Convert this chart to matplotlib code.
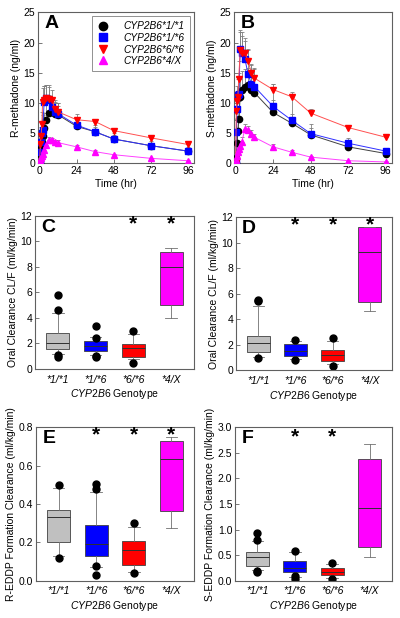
import matplotlib
matplotlib.use("Agg")
import matplotlib.pyplot as plt
from matplotlib.lines import Line2D
import numpy as np

plt.rcParams['font.family'] = ['Liberation Sans', 'DejaVu Sans']
plt.rcParams['mathtext.fontset'] = 'custom'
plt.rcParams['mathtext.it'] = 'Liberation Sans:italic'
plt.rcParams['mathtext.rm'] = 'Liberation Sans'

# ---------------- data ----------------
genotypes = ["CYP2B6*1/*1", "CYP2B6*1/*6", "CYP2B6*6/*6", "CYP2B6*4/X"]
geno_short = ["*1/*1", "*1/*6", "*6/*6", "*4/X"]
times = [0, 0.5, 1, 1.5, 2, 3, 4, 6, 8, 10, 12, 24, 36, 48, 72, 96]

r_11 = [0, 1.5, 2.5, 3.5, 4.5, 5.8, 7.2, 8.3, 8.5, 8.2, 8.0, 6.1, 5.2, 4.0, 2.9, 2.0]
r_16 = [0, 1.8, 3.5, 5.0, 5.5, 10.2, 10.8, 10.5, 9.3, 8.5, 8.2, 6.3, 5.2, 4.0, 2.9, 2.0]
r_66 = [0, 3.2, 4.5, 6.5, 10.2, 10.5, 10.8, 10.7, 10.4, 9.0, 8.5, 7.2, 6.9, 5.4, 4.2, 3.1]
r_4x = [0, 0.5, 0.8, 1.2, 1.5, 2.2, 3.0, 3.9, 3.8, 3.5, 3.4, 2.7, 1.9, 1.4, 0.8, 0.4]
r_sd_11 = [0, 0.5, 1.0, 1.5, 2.0, 2.5, 3.0, 3.0, 2.5, 2.0, 2.0, 1.5, 1.2, 1.0, 0.8, 0.6]
r_sd_16 = [0, 1.0, 1.5, 2.0, 2.5, 2.6, 2.2, 2.2, 1.6, 1.4, 1.3, 1.0, 0.8, 0.6, 0.5, 0.4]
r_sd_66 = [0, 1.0, 1.5, 2.0, 2.2, 2.3, 2.2, 2.2, 1.8, 1.5, 1.5, 0.9, 0.5, 0.4, 0.3, 0.3]
r_sd_4x = [0, 0.2, 0.3, 0.4, 0.4, 0.5, 0.5, 0.5, 0.4, 0.4, 0.4, 0.3, 0.2, 0.2, 0.1, 0.1]

s_11 = [0, 0.8, 3.3, 5.4, 7.3, 11.0, 12.2, 12.6, 13.0, 12.2, 11.7, 8.4, 6.6, 4.7, 2.7, 1.6]
s_16 = [0, 5.1, 9.0, 11.3, 11.4, 19.0, 18.3, 17.2, 14.8, 13.2, 12.7, 9.4, 7.1, 4.9, 3.3, 2.0]
s_66 = [0, 8.6, 10.3, 11.0, 14.0, 18.7, 18.3, 18.2, 17.0, 15.0, 14.1, 12.2, 11.0, 8.3, 5.9, 4.3]
s_4x = [0, 0.5, 1.2, 1.8, 2.3, 2.8, 3.5, 5.7, 5.5, 4.9, 4.3, 2.7, 1.8, 1.0, 0.4, 0.2]
s_sd_11 = [0, 1.0, 2.0, 2.5, 3.0, 3.0, 3.0, 3.0, 2.8, 2.6, 2.5, 2.0, 1.6, 1.2, 0.8, 0.5]
s_sd_16 = [0, 2.0, 3.0, 3.0, 3.5, 3.0, 3.5, 3.1, 4.0, 3.0, 3.1, 3.8, 3.8, 1.6, 0.8, 0.5]
s_sd_66 = [0, 2.0, 2.5, 3.0, 3.0, 3.0, 2.8, 2.5, 2.0, 1.5, 1.5, 1.0, 0.8, 0.6, 0.5, 0.4]
s_sd_4x = [0, 0.3, 0.4, 0.5, 0.6, 0.7, 0.8, 0.8, 0.7, 0.6, 0.5, 0.4, 0.3, 0.2, 0.1, 0.1]

# box statistics: [whislo, q1, med, q3, whishi]
c_stats = [[1.2, 1.6, 2.05, 2.8, 4.4], [1.1, 1.4, 1.8, 2.2, 2.5], [0.75, 0.95, 1.65, 1.95, 2.75], [4.0, 5.0, 8.0, 9.15, 9.5]]
c_fliers = [[5.8, 4.6, 1.1, 0.9], [3.35, 2.45, 1.0, 0.9], [3.0, 0.45], []]
c_star = [False, False, True, True]

d_stats = [[1.0, 1.45, 2.15, 2.7, 5.0], [0.9, 1.15, 1.5, 2.05, 2.3], [0.5, 0.75, 1.2, 1.55, 2.3], [4.65, 5.35, 9.3, 11.2, 11.2]]
d_fliers = [[5.5, 5.4, 0.95], [2.4, 0.8], [2.5, 0.35], []]
d_star = [False, True, True, True]

e_stats = [[0.13, 0.20, 0.33, 0.37, 0.485], [0.07, 0.13, 0.19, 0.29, 0.46], [0.045, 0.085, 0.16, 0.21, 0.28], [0.275, 0.365, 0.635, 0.725, 0.75]]
e_fliers = [[0.50, 0.12], [0.505, 0.48, 0.075, 0.03], [0.30, 0.04], []]
e_star = [False, True, True, True]

f_stats = [[0.22, 0.30, 0.46, 0.56, 0.78], [0.07, 0.18, 0.26, 0.39, 0.57], [0.05, 0.12, 0.17, 0.25, 0.33], [0.46, 0.67, 1.43, 2.38, 2.66]]
f_fliers = [[0.93, 0.80, 0.20, 0.17], [0.58, 0.10, 0.04], [0.34, 0.04], []]
f_star = [False, True, True, False]

colors = ['black', '#0000ff', '#ff0000', '#ff00ff']
line_colors = ['#404040', '#3030ff', '#ff5050', '#ff40ff']
markers = ['o', 's', 'v', '^']
box_colors = ['#c0c0c0', '#0000ff', '#ff0000', '#ff00ff']

fig = plt.figure(figsize=(4.0, 6.18), dpi=100)

frame_col = '#606060'
TICK_FS = 7.5
LAB_FS = 7.5


def style(ax):
    for s in ax.spines.values():
        s.set_color(frame_col)
        s.set_linewidth(0.8)
    ax.tick_params(direction='in', length=3, width=0.6, labelsize=TICK_FS, colors='black', pad=2)
    ax.tick_params(axis='both', color=frame_col)


def pk_panel(rect, series, sds, ylabel, letter, legend=False):
    ax = fig.add_axes(rect)
    for i in range(4):
        y = np.array(series[i])
        sd = np.array(sds[i])
        ax.errorbar(times, y, yerr=[np.zeros_like(sd), sd], fmt='none', ecolor='#808080',
                    elinewidth=0.6, capsize=1.5, capthick=0.6, zorder=2)
        ax.plot(times, y, color=line_colors[i], lw=0.7, marker=markers[i], ms=4.5,
                mfc=colors[i], mec=colors[i], zorder=3 + i, label=genotypes[i])
    ax.set_xlim(-1, 100)
    ax.set_ylim(0, 25)
    ax.set_xticks([0, 24, 48, 72, 96])
    ax.set_yticks([0, 5, 10, 15, 20, 25])
    ax.set_xlabel('Time (hr)', fontsize=LAB_FS, labelpad=2)
    ax.set_ylabel(ylabel, fontsize=LAB_FS, labelpad=2)
    style(ax)
    ax.text(0.04, 0.98, letter, transform=ax.transAxes, ha='left', va='top',
            fontsize=14, fontweight='bold')
    if legend:
        proxies = [Line2D([], [], ls='none', marker=markers[i], ms=6, mfc=colors[i],
                          mec=colors[i]) for i in range(4)]
        leg = ax.legend(proxies, genotypes, loc='upper right', frameon=True,
                        fancybox=False, edgecolor=frame_col, borderpad=0.5,
                        handletextpad=1.6, labelspacing=0.15, handlelength=1.0,
                        borderaxespad=0.4,
                        prop={'style': 'italic', 'size': 7.3})
        leg.get_frame().set_linewidth(0.6)
    return ax


def box_panel(rect, stats, fliers, stars, ylim, yticks, ylabel, letter, star_y):
    ax = fig.add_axes(rect)
    bstats = []
    for i in range(4):
        wl, q1, med, q3, wh = stats[i]
        bstats.append(dict(whislo=wl, q1=q1, med=med, q3=q3, whishi=wh, fliers=fliers[i]))
    bp = ax.bxp(bstats, positions=[1, 2, 3, 4], widths=0.62, patch_artist=True,
                showfliers=True,
                boxprops=dict(linewidth=0.6, edgecolor='#404040'),
                medianprops=dict(color='#303030', linewidth=0.7),
                whiskerprops=dict(color='#707070', linewidth=0.6),
                capprops=dict(color='#707070', linewidth=0.6),
                flierprops=dict(marker='o', markerfacecolor='black', markeredgecolor='black',
                                markersize=5))
    for patch, c in zip(bp['boxes'], box_colors):
        patch.set_facecolor(c)
    for i in range(4):
        if stars[i]:
            ax.text(i + 1, star_y, '*', ha='center', va='center', fontsize=15, fontweight='bold')
    ax.set_xlim(0.4, 4.6)
    ax.set_ylim(*ylim)
    ax.set_yticks(yticks)
    ax.set_xticks([1, 2, 3, 4])
    ax.set_xticklabels(geno_short, fontstyle='italic')
    ax.set_xlabel(r'$\it{CYP2B6}$ Genotype', fontsize=LAB_FS, labelpad=2)
    ax.set_ylabel(ylabel, fontsize=LAB_FS, labelpad=2)
    style(ax)
    ax.tick_params(axis='x', length=0, pad=4)
    ax.text(0.04, 0.98, letter, transform=ax.transAxes, ha='left', va='top',
            fontsize=14, fontweight='bold')
    return ax


pk_panel([0.095, 0.736, 0.39, 0.244], [r_11, r_16, r_66, r_4x],
         [r_sd_11, r_sd_16, r_sd_66, r_sd_4x], 'R-methadone (ng/ml)', 'A', legend=True)
pk_panel([0.585, 0.736, 0.395, 0.244], [s_11, s_16, s_66, s_4x],
         [s_sd_11, s_sd_16, s_sd_66, s_sd_4x], 'S-methadone (ng/ml)', 'B')

box_panel([0.0875, 0.403, 0.3975, 0.2476], c_stats, c_fliers, c_star, (0, 12),
          [0, 2, 4, 6, 8, 10, 12], 'Oral Clearance CL/F (ml/kg/min)', 'C', 11.4)
box_panel([0.59, 0.401, 0.39, 0.2476], d_stats, d_fliers, d_star, (0, 12),
          [0, 2, 4, 6, 8, 10, 12], 'Oral Clearance CL/F (ml/kg/min)', 'D', 11.4)
box_panel([0.09, 0.06, 0.395, 0.249], e_stats, e_fliers, e_star, (0, 0.8),
          [0.0, 0.2, 0.4, 0.6, 0.8], 'R-EDDP Formation Clearance (ml/kg/min)', 'E', 0.76)
box_panel([0.5875, 0.06, 0.3925, 0.249], f_stats, f_fliers, f_star, (0, 3.0),
          [0.0, 0.5, 1.0, 1.5, 2.0, 2.5, 3.0], 'S-EDDP Formation Clearance (ml/kg/min)', 'F', 2.8)

fig.axes[4].yaxis.set_major_formatter(matplotlib.ticker.FormatStrFormatter('%.1f'))
fig.axes[5].yaxis.set_major_formatter(matplotlib.ticker.FormatStrFormatter('%.1f'))

fig.savefig('out.png', dpi=100)
